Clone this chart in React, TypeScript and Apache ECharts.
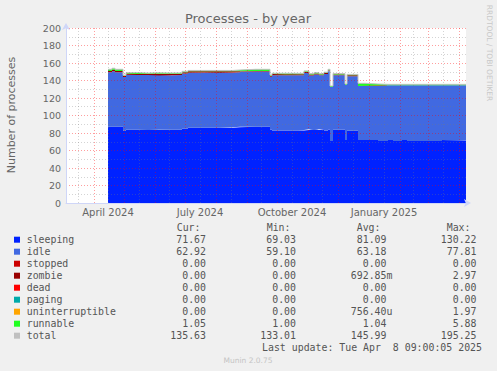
import React, { useEffect, useRef } from "react";
import * as echarts from "echarts";

const dates = [
  "2024-04-15", "2024-04-19", "2024-04-22", "2024-04-30", "2024-05-03", "2024-05-15",
  "2024-05-25", "2024-06-05", "2024-06-18", "2024-06-28", "2024-07-04", "2024-07-20",
  "2024-08-05", "2024-08-18", "2024-08-25", "2024-09-10", "2024-09-24", "2024-09-26",
  "2024-10-10", "2024-10-22", "2024-10-28", "2024-11-02", "2024-11-07", "2024-11-12",
  "2024-11-17", "2024-11-21", "2024-11-23", "2024-11-26", "2024-12-08", "2024-12-10",
  "2024-12-21", "2024-12-28", "2025-01-10", "2025-01-20", "2025-01-25", "2025-02-03",
  "2025-02-08", "2025-03-01", "2025-03-15", "2025-03-20", "2025-04-08",
];
const sleeping = [87.2, 87.2, 87.2, 82.6, 83.8, 83.8, 83.5, 83.8, 83.8, 85.0, 86.0, 86.0, 86.0, 86.5, 87.2, 87.2, 84.0, 82.8, 82.8, 83.0, 83.5, 84.2, 83.5, 84.2, 83.0, 84.0, 71.0, 83.8, 72.0, 82.7, 72.0, 72.0, 71.0, 72.0, 71.0, 72.0, 71.0, 71.0, 72.0, 71.5, 71.67];
const idle = [62.3, 63.5, 62.3, 61.5, 62.8, 62.5, 62.8, 62.3, 62.5, 63.0, 63.0, 63.2, 63.0, 62.8, 63.0, 63.0, 60.3, 63.3, 63.2, 63.0, 65.0, 61.5, 63.5, 61.8, 64.5, 66.8, 61.7, 62.2, 63.0, 62.3, 61.8, 62.0, 63.5, 62.5, 63.5, 62.6, 63.6, 63.6, 62.6, 63.1, 62.92];
const stopped = [0, 0, 0, 0, 0, 0, 0, 0, 0, 0, 0, 0, 0, 0, 0, 0, 0, 0, 0, 0, 0, 0, 0, 0, 0, 0, 0, 0, 0, 0, 0, 0, 0, 0, 0, 0, 0, 0, 0, 0, 0];
const zombie = [1.5, 1.5, 1.5, 1.0, 1.4, 1.2, 1.5, 1.5, 1.4, 1.5, 1.5, 1.3, 1.5, 1.2, 0.8, 0.8, 1.0, 1.2, 1.2, 1.2, 1.5, 1.3, 1.0, 1.0, 1.0, 1.0, 0, 1.0, 0, 1.0, 0, 0, 0, 0, 0, 0, 0, 0, 0, 0, 0];
const dead = [0, 0, 0, 0, 0, 0, 0, 0, 0, 0, 0, 0, 0, 0, 0, 0, 0, 0, 0, 0, 0, 0, 0, 0, 0, 0, 0, 0, 0, 0, 0, 0, 0, 0, 0, 0, 0, 0, 0, 0, 0];
const paging = [0, 0, 0, 0, 0, 0, 0, 0, 0, 0, 0, 0, 0, 0, 0, 0, 0, 0, 0, 0, 0, 0, 0, 0, 0, 0, 0, 0, 0, 0, 0, 0, 0, 0, 0, 0, 0, 0, 0, 0, 0];
const uninterruptible = [0, 0, 0, 0, 0, 0, 0, 0, 0, 0, 0, 0, 0, 0, 0, 0, 0, 0, 0, 0, 0, 0, 0, 0, 0, 0, 0, 0, 0, 0, 0, 0, 0, 0, 0, 0, 0, 0, 0, 0, 0];
const runnable = [1.8, 1.8, 1.8, 1.0, 1.0, 1.0, 1.0, 1.0, 1.0, 1.0, 1.0, 1.0, 1.0, 1.5, 1.8, 1.8, 1.0, 1.0, 1.0, 1.0, 1.0, 1.0, 1.0, 1.0, 1.0, 1.0, 1.0, 1.0, 1.0, 1.0, 3.0, 2.0, 1.1, 1.1, 1.1, 1.0, 1.0, 1.0, 1.0, 1.0, 1.05];
const total = [152.8, 154.0, 152.8, 146.1, 149.0, 148.5, 148.8, 148.6, 148.7, 150.5, 151.5, 151.5, 151.5, 152.0, 152.8, 152.8, 146.3, 148.3, 148.2, 148.2, 151.0, 148.0, 149.0, 148.0, 149.5, 152.8, 133.7, 148.0, 136.0, 147.0, 136.8, 136.0, 135.6, 135.6, 135.6, 135.6, 135.6, 135.6, 135.6, 135.6, 135.63];

const xMin = "2024-03-04";
const xMax = "2025-04-08";
const monthStarts = [
  "2024-04-01", "2024-05-01", "2024-06-01", "2024-07-01", "2024-08-01", "2024-09-01",
  "2024-10-01", "2024-11-01", "2024-12-01", "2025-01-01", "2025-02-01", "2025-03-01", "2025-04-01",
];
const midMonths = [
  "2024-03-16", "2024-04-15", "2024-05-16", "2024-06-15", "2024-07-16", "2024-08-16",
  "2024-09-15", "2024-10-16", "2024-11-15", "2024-12-16", "2025-01-16", "2025-02-14", "2025-03-16",
];
const xLabelDates = ["2024-04-15", "2024-07-16", "2024-10-16", "2025-01-16"];
const xLabelTexts = ["April 2024", "July 2024", "October 2024", "January 2025"];

const legendNames = ["sleeping", "idle", "stopped", "zombie", "dead", "paging", "uninterruptible", "runnable", "total"];
const legendColors = ["#0022ff", "#4169e1", "#cc0000", "#990000", "#ff0000", "#00aaaa", "#ffa500", "#22ff22", "#c0c0c0"];
const curVals = ["71.67", "62.92", "0.00", "0.00", "0.00", "0.00", "0.00", "1.05", "135.63"];
const minVals = ["69.03", "59.10", "0.00", "0.00", "0.00", "0.00", "0.00", "1.00", "133.01"];
const avgVals = ["81.09", "63.18", "0.00", "692.85m", "0.00", "0.00", "756.40u", "1.04", "145.99"];
const maxVals = ["130.22", "77.81", "0.00", "2.97", "0.00", "0.00", "1.97", "5.88", "195.25"];
const colHeaders = ["Cur:", "Min:", "Avg:", "Max:"];

const FONT = "DejaVu Sans";
const MONO = "DejaVu Sans Mono";
const FONT_COLOR = "#666666";
const AXIS_COLOR = "#cfd6f8";
const MGRID = "rgba(255,0,0,0.38)";
const GRID = "rgba(120,120,120,0.32)";

export default function App() {
  const ref = useRef<HTMLDivElement>(null);

  useEffect(() => {
    if (!ref.current) return;
    const chart = echarts.init(ref.current, undefined, { renderer: "svg" });
    const tp = (s: string) => echarts.time.parse(s).getTime();

    const stackSeries = [
      { name: "sleeping", data: sleeping, color: legendColors[0] },
      { name: "idle", data: idle, color: legendColors[1] },
      { name: "stopped", data: stopped, color: legendColors[2] },
      { name: "zombie", data: zombie, color: legendColors[3] },
      { name: "dead", data: dead, color: legendColors[4] },
      { name: "paging", data: paging, color: legendColors[5] },
      { name: "uninterruptible", data: uninterruptible, color: legendColors[6] },
      { name: "runnable", data: runnable, color: legendColors[7] },
    ].map((s) => ({
      name: s.name,
      type: "line",
      stack: "procs",
      step: "end",
      symbol: "none",
      silent: true,
      lineStyle: { width: 0 },
      itemStyle: { color: s.color },
      areaStyle: { color: s.color, opacity: 1 },
      data: dates.map((d, i) => [tp(d), s.data[i]]),
    }));

    const markData: any[] = [];
    monthStarts.forEach((d) =>
      markData.push({ xAxis: tp(d), lineStyle: { color: MGRID, type: [1, 2], width: 1 }, label: { show: false } })
    );
    midMonths.forEach((d) => {
      const li = xLabelDates.indexOf(d);
      markData.push({
        xAxis: tp(d),
        lineStyle: { color: GRID, type: [1, 2], width: 1 },
        label:
          li >= 0
            ? {
                show: true,
                position: "start",
                distance: 4,
                formatter: xLabelTexts[li],
                color: FONT_COLOR,
                fontFamily: FONT,
                fontSize: 10,
              }
            : { show: false },
      });
    });

    const cw = 5.95;
    const colRight = [206, 296, 386.5, 476.5];
    const colHeadX = [176.7, 266.7, 356.7, 446.7];
    const rowY0 = 239.7;
    const rowH = 12;
    const graphics: any[] = [];
    graphics.push({
      type: "text",
      x: 248,
      y: 18,
      style: { text: "Processes - by year", fill: FONT_COLOR, font: `13px "${FONT}"`, textAlign: "center", textVerticalAlign: "middle" },
    });
    graphics.push({
      type: "text",
      x: 11,
      y: 115,
      rotation: Math.PI / 2,
      style: { text: "Number of processes", fill: FONT_COLOR, font: `11px "${FONT}"`, textAlign: "center", textVerticalAlign: "middle" },
    });
    graphics.push({
      type: "text",
      x: 489,
      y: 53,
      rotation: -Math.PI / 2,
      style: { text: "RRDTOOL / TOBI OETIKER", fill: "#c8c8c8", font: `7.5px "${FONT}"`, textAlign: "center", textVerticalAlign: "middle" },
    });
    colHeaders.forEach((h, c) =>
      graphics.push({
        type: "text",
        x: colHeadX[c],
        y: 227.3,
        style: { text: h, fill: "#555", font: `9.9px "${MONO}"`, textAlign: "left", textVerticalAlign: "middle" },
      })
    );
    const cols = [curVals, minVals, avgVals, maxVals];
    legendNames.forEach((n, r) => {
      const y = rowY0 + r * rowH;
      graphics.push({
        type: "rect",
        shape: { x: 14, y: y - 3, width: 6, height: 6 },
        style: { fill: legendColors[r] },
      });
      graphics.push({
        type: "text",
        x: 26.7,
        y,
        style: { text: n, fill: "#555", font: `9.9px "${MONO}"`, textAlign: "left", textVerticalAlign: "middle" },
      });
      cols.forEach((vals, c) => {
        const s = vals[r];
        const n2 = s.replace(/[mu]$/, "").length;
        graphics.push({
          type: "text",
          x: colRight[c] - n2 * cw,
          y,
          style: { text: s, fill: "#555", font: `9.9px "${MONO}"`, textAlign: "left", textVerticalAlign: "middle" },
        });
      });
    });
    graphics.push({
      type: "text",
      x: 482,
      y: 347.3,
      style: { text: "Last update: Tue Apr  8 09:00:05 2025", fill: "#555", font: `9.9px "${MONO}"`, textAlign: "right", textVerticalAlign: "middle" },
    });
    graphics.push({
      type: "text",
      x: 248,
      y: 360,
      style: { text: "Munin 2.0.75", fill: "#c4c4c4", font: `7.5px "${FONT}"`, textAlign: "center", textVerticalAlign: "middle" },
    });

    chart.setOption({
      animation: false,
      backgroundColor: "#f0f0f0",
      grid: { left: 66, top: 28, width: 400, height: 175, show: true, backgroundColor: "#ffffff", borderWidth: 0 },
      xAxis: {
        type: "time",
        min: tp(xMin),
        max: tp(xMax),
        z: 10,
        axisLine: {
          show: true,
          lineStyle: { color: AXIS_COLOR, width: 1 },
          symbol: ["none", "arrow"],
          symbolSize: [6, 7],
          symbolOffset: [0, 5],
        },
        axisTick: { show: false },
        axisLabel: { show: false },
        splitLine: { show: false },
      },
      yAxis: {
        type: "value",
        min: 0,
        max: 200,
        interval: 20,
        z: 10,
        axisLine: {
          show: true,
          lineStyle: { color: AXIS_COLOR, width: 1 },
          symbol: ["none", "arrow"],
          symbolSize: [6, 7],
          symbolOffset: [0, 5],
        },
        axisTick: { show: false },
        axisLabel: { color: FONT_COLOR, fontFamily: FONT, fontSize: 9.5, margin: 5 },
        splitLine: { show: true, lineStyle: { color: MGRID, type: [1, 2], width: 1 } },
        minorTick: { show: false, splitNumber: 2 },
        minorSplitLine: { show: true, lineStyle: { color: GRID, type: [1, 2], width: 1 } },
      },
      series: [
        ...stackSeries,
        {
          name: "total",
          type: "line",
          step: "end",
          symbol: "none",
          silent: true,
          z: 3,
          lineStyle: { color: legendColors[8], width: 1 },
          itemStyle: { color: legendColors[8] },
          data: dates.map((d, i) => [tp(d), total[i]]),
          markLine: {
            silent: true,
            symbol: ["none", "none"],
            animation: false,
            data: markData,
          },
        },
      ],
      graphic: graphics,
    });
    return () => chart.dispose();
  }, []);

  return (
    <div
      ref={ref}
      style={{ position: "fixed", left: 0, top: 0, width: 497, height: 371, background: "#f0f0f0" }}
    />
  );
}
